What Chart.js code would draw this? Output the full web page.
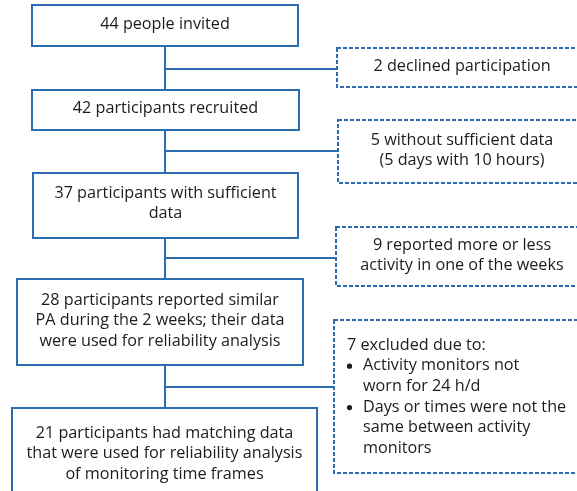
<!DOCTYPE html>
<html>
<head>
<meta charset="utf-8">
<script src="https://cdn.jsdelivr.net/npm/chart.js@4.4.1/dist/chart.umd.min.js"></script>
<style>
html,body{margin:0;padding:0;background:#fff;overflow:hidden;}
canvas{display:block;}
</style>
</head>
<body>
<canvas id="c" width="577" height="491"></canvas>
<script>
// ---- data ----
const stepCounts = [44, 42, 37, 28, 21];
const stepLabels = [
  ["{n} people invited"],
  ["{n} participants recruited"],
  ["{n} participants with sufficient", "data"],
  ["{n} participants reported similar", "PA during the 2 weeks; their data", "were used for reliability analysis"],
  ["{n} participants had matching data", "that were used for reliability analysis", "of monitoring time frames"]
];
const exclCounts = [2, 5, 9, 7];
const exclLabels = [
  ["{n} declined participation"],
  ["{n} without sufficient data", "(5 days with 10 hours)"],
  ["{n} reported more or less", "activity in one of the weeks"],
  ["{n} excluded due to:", "• Activity monitors not", "   worn for 24 h/d", "• Days or times were not the", "   same between activity", "   monitors"]
];

// ---- layout (axis units) ----
const stepBoxes = [
  {x0: 32, x1: 298, y0: 5,   y1: 46,  ty: 24},
  {x0: 32, x1: 299, y0: 90,  y1: 130, ty: 108},
  {x0: 33, x1: 298, y0: 173, y1: 238, ty: 193},
  {x0: 17, x1: 303, y0: 279, y1: 365, ty: 300},
  {x0: 12, x1: 317, y0: 408, y1: 505, ty: 433}
];
const exclBoxes = [
  {x0: 337, x1: 600, y0: 48,  y1: 87,  ty: 66,  by: 69,  align: "center"},
  {x0: 338, x1: 600, y0: 120, y1: 183, ty: 140, by: 151, align: "center"},
  {x0: 336, x1: 600, y0: 227, y1: 286, ty: 245, by: 258, align: "center"},
  {x0: 334, x1: 600, y0: 320, y1: 473, ty: 345, by: 387, align: "left"}
];
const spineX = 165;
const lineStep = 20.7;
const exclTextCx = 462;
const exclTextLeft = 347;

const BLUE = "#2c6cb0";
const TEXT = "#1e1b1c";
const FONT_FAMILY = "'Open Sans', 'Noto Sans', sans-serif";

const flowPlugin = {
  id: "flow",
  afterDraw(chart) {
    const ctx = chart.ctx;
    const X = v => chart.scales.x.getPixelForValue(v);
    const Y = v => chart.scales.y.getPixelForValue(v);
    ctx.save();
    ctx.font = "16px " + FONT_FAMILY;
    const w = ctx.measureText("that were used for reliability analysis").width;
    const fs = 16 * 276 / w;
    const font = fs.toFixed(2) + "px " + FONT_FAMILY;

    // connectors
    ctx.strokeStyle = BLUE;
    ctx.lineWidth = 2;
    ctx.setLineDash([]);
    for (let i = 0; i < stepBoxes.length - 1; i++) {
      const a = stepBoxes[i], b = stepBoxes[i + 1];
      ctx.beginPath();
      ctx.moveTo(X(spineX), Y(a.y1));
      ctx.lineTo(X(spineX), Y(b.y0));
      ctx.stroke();
      const e = exclBoxes[i];
      ctx.beginPath();
      ctx.moveTo(X(spineX), Y(e.by));
      ctx.lineTo(X(e.x0), Y(e.by));
      ctx.stroke();
    }
    // step boxes
    stepBoxes.forEach((b, i) => {
      ctx.fillStyle = "#fff";
      ctx.fillRect(X(b.x0), Y(b.y0), X(b.x1) - X(b.x0), Y(b.y1) - Y(b.y0));
      ctx.setLineDash([]);
      ctx.strokeRect(X(b.x0), Y(b.y0), X(b.x1) - X(b.x0), Y(b.y1) - Y(b.y0));
      ctx.fillStyle = TEXT;
      ctx.font = font;
      ctx.textAlign = "center";
      ctx.textBaseline = "middle";
      const cx = (b.x0 + b.x1) / 2;
      stepLabels[i].forEach((t, k) => {
        ctx.fillText(t.replace("{n}", stepCounts[i]), X(cx), Y(b.ty + k * lineStep));
      });
    });
    // exclusion boxes
    exclBoxes.forEach((b, i) => {
      ctx.fillStyle = "#fff";
      ctx.fillRect(X(b.x0), Y(b.y0), X(b.x1) - X(b.x0), Y(b.y1) - Y(b.y0));
      ctx.setLineDash([4, 2]);
      ctx.strokeRect(X(b.x0), Y(b.y0), X(b.x1) - X(b.x0), Y(b.y1) - Y(b.y0));
      ctx.setLineDash([]);
      ctx.fillStyle = TEXT;
      ctx.font = font;
      ctx.textBaseline = "middle";
      exclLabels[i].forEach((t, k) => {
        const s = t.replace("{n}", exclCounts[i]);
        const yy = Y(b.ty + k * lineStep);
        if (b.align === "left") {
          ctx.textAlign = "left";
          if (s.startsWith("• ")) {
            ctx.beginPath();
            ctx.arc(X(exclTextLeft + 2.5), yy + 0.5, 2.6, 0, Math.PI * 2);
            ctx.fill();
            ctx.fillText(s.slice(2), X(exclTextLeft + 16), yy);
          } else if (s.startsWith("   ")) {
            ctx.fillText(s.trim(), X(exclTextLeft + 16), yy);
          } else {
            ctx.fillText(s, X(exclTextLeft), yy);
          }
        } else {
          ctx.textAlign = "center";
          ctx.fillText(s, X(exclTextCx), yy);
        }
      });
    });
    ctx.restore();
  }
};

new Chart(document.getElementById("c"), {
  type: "scatter",
  data: {
    datasets: [
      {label: "Participants", data: stepCounts.map((n, i) => ({x: spineX, y: stepBoxes[i].ty})), pointRadius: 0},
      {label: "Excluded", data: exclCounts.map((n, i) => ({x: exclTextCx, y: exclBoxes[i].ty})), pointRadius: 0}
    ]
  },
  options: {
    responsive: false,
    animation: false,
    events: [],
    layout: {padding: 0},
    plugins: {legend: {display: false}, tooltip: {enabled: false}},
    scales: {
      x: {type: "linear", min: 0, max: 577, display: false},
      y: {type: "linear", min: 0, max: 491, reverse: true, display: false}
    }
  },
  plugins: [flowPlugin]
});
</script>
</body>
</html>
